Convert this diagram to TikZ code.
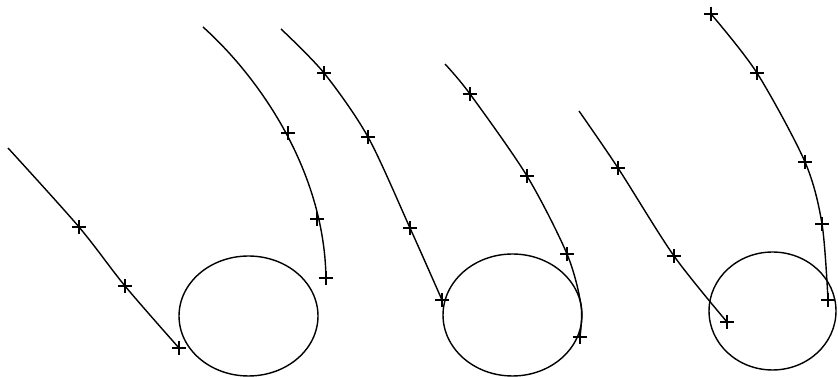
\documentclass[tikz,border=0pt]{standalone}
\begin{document}
\begin{tikzpicture}[
    x=0.02cm, y=-0.02cm,
    path/.style={line width=0.8pt, black},
    body/.style={line width=0.8pt, black},
    cross/.style={line width=0.9pt, black},
]
\useasboundingbox (0,0) rectangle (838,377);

% Bodies
\draw[body] (248.5,316) ellipse [x radius=1.39cm, y radius=1.2cm];
\draw[body] (512.5,315) ellipse [x radius=1.39cm, y radius=1.22cm];
\draw[body] (772.5,311) ellipse [x radius=1.27cm, y radius=1.18cm];

% Trajectories
\draw[path] plot[smooth] coordinates {(8,148) (79,227) (125,286) (179,348)};
\draw[path] (203,27) .. controls (262,80) and (326,175) .. (326,282);
\draw[path] plot[smooth] coordinates {(281,29) (324,73) (368,137) (410,228) (442,300)};
\draw[path] plot[smooth] coordinates {(445,64) (470,94) (527,176) (567,254) (581,305) (580,337)};
\draw[path] plot[smooth] coordinates {(579,111) (618,168) (674,256) (727,322)};
\draw[path] plot[smooth] coordinates {(711,14) (757,73) (805,162) (822,224) (828,300)};

% Position marks
\foreach \p in {(79,227), (125,286), (179,348),
                (288,133), (317,219), (326,278),
                (324,73), (368,137), (410,228), (442,300),
                (470,94), (527,176), (567,254), (580,337),
                (618,168), (674,256), (727,322),
                (711,14), (757,73), (805,162), (822,224), (828,300)}{
  \draw[cross] \p ++(-7,0) -- ++(14,0) \p ++(0,-7) -- ++(0,14);
}

\end{tikzpicture}
\end{document}
